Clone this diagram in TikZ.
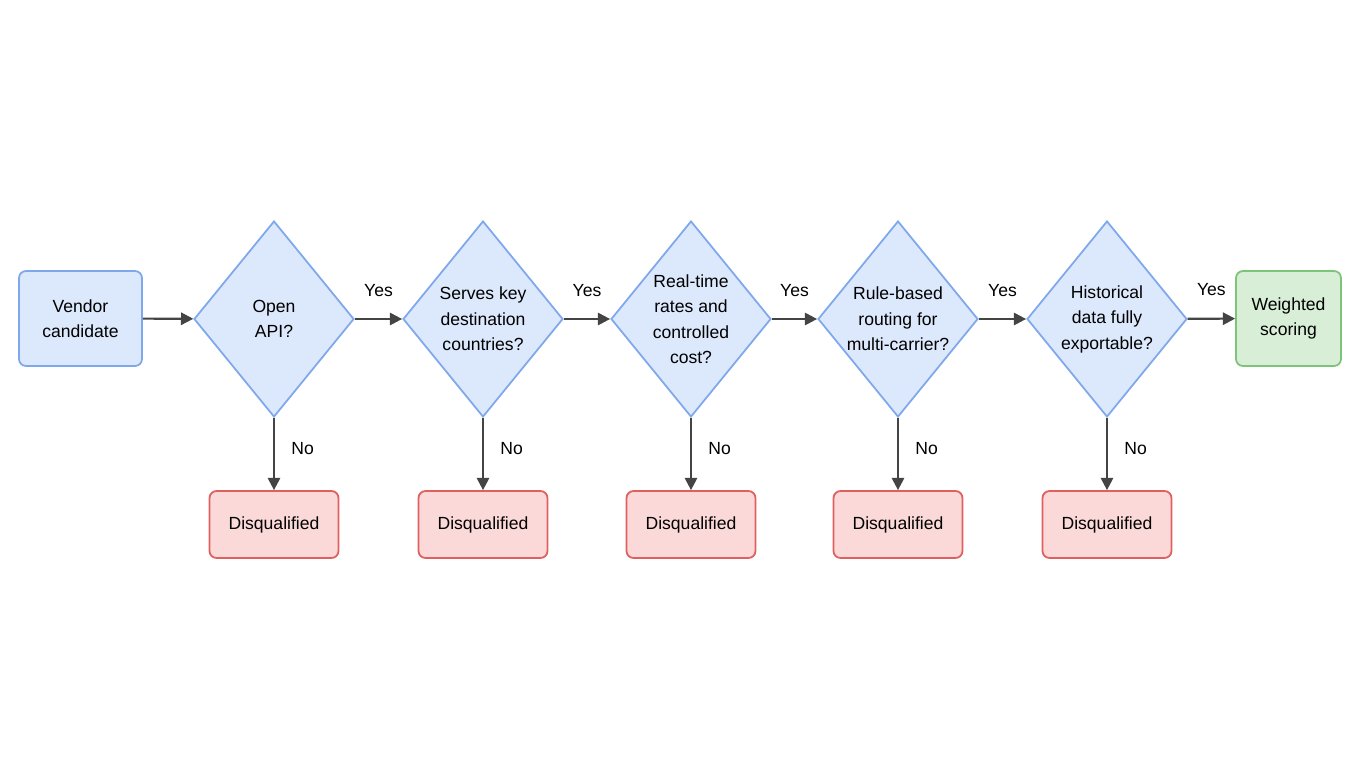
\documentclass[tikz,border=0pt]{standalone}
\usepackage{fontspec}
\setmainfont{Liberation Sans}
\usetikzlibrary{shapes.geometric,arrows.meta}
\definecolor{bfill}{HTML}{DCE8FB}
\definecolor{bline}{HTML}{7FA8EC}
\definecolor{rfill}{HTML}{FAD9D8}
\definecolor{rline}{HTML}{E06060}
\definecolor{gfill}{HTML}{D8EED6}
\definecolor{gline}{HTML}{7CC47A}
\definecolor{arr}{HTML}{444444}
\begin{document}
\begin{tikzpicture}[x=0.02cm,y=-0.02cm,
  every node/.style={font=\fontsize{10}{14.5}\selectfont,align=center,text=black},
  box/.style={rectangle,rounded corners=4pt,line width=1pt},
  start/.style={box,draw=bline,fill=bfill,minimum width=2.46cm,minimum height=1.9cm},
  dec/.style={diamond,draw=bline,fill=bfill,line width=1pt,inner sep=-8pt,minimum width=3.2cm,minimum height=3.92cm},
  dq/.style={box,draw=rline,fill=rfill,minimum width=2.58cm,minimum height=1.34cm},
  fin/.style={box,draw=gline,fill=gfill,minimum width=2.1cm,minimum height=1.9cm},
  ar/.style={draw=arr,line width=1.2pt,-{Triangle[length=7pt,width=7pt]}},
  lab/.style={font=\fontsize{10}{12}\selectfont}]
\fill[white] (0,0) rectangle (1360,768);
\useasboundingbox (0,0) rectangle (1360,768);
\node[start] (v) at (80.5,318.5) {Vendor\\candidate};
\node[dec] (d1) at (274,319) {Open\\API?};
\node[dec] (d2) at (483,319) {Serves key\\destination\\countries?};
\node[dec] (d3) at (691,319) {Real-time\\rates and\\controlled\\cost?};
\node[dec] (d4) at (898,319) {Rule-based\\routing for\\multi-carrier?};
\node[dec] (d5) at (1107,319) {Historical\\data fully\\exportable?};
\node[fin] (w) at (1288.5,318.5) {Weighted\\scoring};
\foreach \i/\x in {1/274,2/483,3/691,4/898,5/1107}{
  \node[dq] (q\i) at (\x,524.5) {Disqualified};
  \draw[ar] (d\i) -- (q\i) node[lab,midway,right=6pt,yshift=3pt] {No};
}
\draw[ar] (v) -- (d1);
\draw[ar] (d1) -- (d2) node[lab,midway,above=9pt] {Yes};
\draw[ar] (d2) -- (d3) node[lab,midway,above=9pt] {Yes};
\draw[ar] (d3) -- (d4) node[lab,midway,above=9pt] {Yes};
\draw[ar] (d4) -- (d5) node[lab,midway,above=9pt] {Yes};
\draw[ar] (d5) -- (w) node[lab,midway,above=9pt] {Yes};
\end{tikzpicture}
\end{document}
